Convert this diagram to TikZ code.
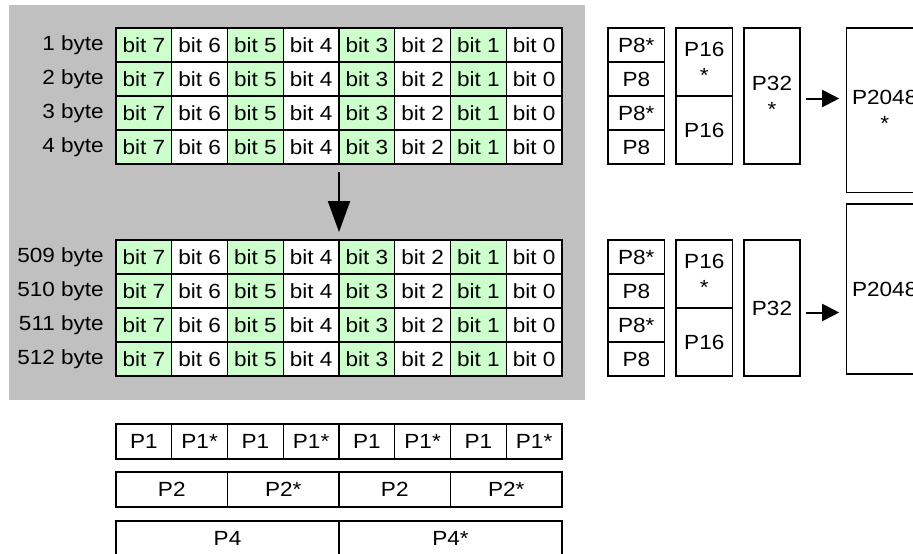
\documentclass[tikz,border=0pt]{standalone}
\usepackage{fontspec}
\setmainfont{Liberation Sans}[FakeStretch=1.1]
\usetikzlibrary{arrows.meta}
\definecolor{bggray}{RGB}{192,192,192}
\definecolor{bitgreen}{RGB}{204,255,204}
\begin{document}
\begin{tikzpicture}[x=1pt,y=-1pt,
  cell/.style={draw, line width=1.4pt, fill=white, inner sep=0pt, outer sep=0pt,
    font=\fontsize{20.5}{26}\selectfont, align=center},
  bitcell/.style={cell, minimum width=55.75pt, minimum height=34pt},
  lbl/.style={anchor=east, inner sep=0pt, font=\fontsize{20.5}{26}\selectfont},
  bigarrow/.style={line width=2pt, -{Triangle[length=31pt,width=22pt]}},
  smallarrow/.style={line width=2pt, -{Triangle[length=17pt,width=17pt]}}
]
\useasboundingbox (0,0) rectangle (913,554);
\clip (0,0) rectangle (913,554);
\fill[bggray] (9,5) rectangle (585,400);

% upper byte grid
\foreach \r/\t in {0/1,1/2,2/3,3/4} {
  \node[lbl] (ulab\r) at (104, {28+34*(\r+0.5)}) {\t\ byte};
  \foreach \c in {0,...,7} {
    \pgfmathtruncatemacro\bb{7-\c}
    \pgfmathtruncatemacro\gg{mod(\c,2)}
    \ifnum\gg=0 \def\fc{bitgreen}\else\def\fc{white}\fi
    \node[bitcell, fill=\fc] (u-\r-\c) at ({116+55.75*(\c+0.5)}, {28+34*(\r+0.5)}) {bit \bb};
  }
}
% lower byte grid
\foreach \r/\t in {0/509,1/510,2/511,3/512} {
  \node[lbl] (llab\r) at (104, {240+34*(\r+0.5)}) {\t\ byte};
  \foreach \c in {0,...,7} {
    \pgfmathtruncatemacro\bb{7-\c}
    \pgfmathtruncatemacro\gg{mod(\c,2)}
    \ifnum\gg=0 \def\fc{bitgreen}\else\def\fc{white}\fi
    \node[bitcell, fill=\fc] (l-\r-\c) at ({116+55.75*(\c+0.5)}, {240+34*(\r+0.5)}) {bit \bb};
  }
}
\draw[bigarrow, shorten <=8pt, shorten >=8pt] (u-3-3.south east) -- (l-0-3.north east);

% upper parity columns
\node[cell, minimum width=56.7pt, minimum height=34pt] (p8a0) at (636.3,45) {P8*};
\node[cell, minimum width=56.7pt, minimum height=34pt] (p8a1) at (636.3,79) {P8};
\node[cell, minimum width=56.7pt, minimum height=34pt] (p8a2) at (636.3,113) {P8*};
\node[cell, minimum width=56.7pt, minimum height=34pt] (p8a3) at (636.3,147) {P8};
\node[cell, minimum width=56.7pt, minimum height=68pt] (p16a0) at (704.3,62) {P16\\*};
\node[cell, minimum width=56.7pt, minimum height=68pt] (p16a1) at (704.3,130) {P16};
\node[cell, minimum width=56pt, minimum height=136pt] (p32a) at (772,96) {P32\\*};
\node[cell, minimum width=76pt, minimum height=164.7pt] (p2048a) at (884.7,110.35) {P2048\\*};
\draw[smallarrow, shorten <=6pt, shorten >=7.5pt] ([yshift=-2.5pt]p32a.east) -- ([yshift=-2.5pt]p32a.east -| p2048a.west);

% lower parity columns
\node[cell, minimum width=56.7pt, minimum height=34pt] (p8b0) at (636.3,257) {P8*};
\node[cell, minimum width=56.7pt, minimum height=34pt] (p8b1) at (636.3,291) {P8};
\node[cell, minimum width=56.7pt, minimum height=34pt] (p8b2) at (636.3,325) {P8*};
\node[cell, minimum width=56.7pt, minimum height=34pt] (p8b3) at (636.3,359) {P8};
\node[cell, minimum width=56.7pt, minimum height=68pt] (p16b0) at (704.3,274) {P16\\*};
\node[cell, minimum width=56.7pt, minimum height=68pt] (p16b1) at (704.3,342) {P16};
\node[cell, minimum width=56pt, minimum height=136pt] (p32b) at (772,308) {P32};
\node[cell, minimum width=76pt, minimum height=170pt] (p2048b) at (884.7,289) {P2048};
\draw[smallarrow, shorten <=6pt, shorten >=7.5pt] ([yshift=-4.5pt]p32b.east) -- ([yshift=-4.5pt]p32b.east -| p2048b.west);

% column parity rows
\foreach \c in {0,...,7} {
  \pgfmathtruncatemacro\gg{mod(\c,2)}
  \ifnum\gg=0 \def\tx{P1}\else\def\tx{P1*}\fi
  \node[cell, minimum width=55.75pt, minimum height=35pt] (p1-\c) at ({116+55.75*(\c+0.5)}, 441.5) {\tx};
}
\foreach \c in {0,...,3} {
  \pgfmathtruncatemacro\gg{mod(\c,2)}
  \ifnum\gg=0 \def\tx{P2}\else\def\tx{P2*}\fi
  \node[cell, minimum width=111.5pt, minimum height=35pt] (p2-\c) at ({116+111.5*(\c+0.5)}, 489.5) {\tx};
}
\node[cell, minimum width=223pt, minimum height=35pt] (p4-0) at (227.5,538.5) {P4};
\node[cell, minimum width=223pt, minimum height=35pt] (p4-1) at (450.5,538.5) {P4*};
\end{tikzpicture}
\end{document}
